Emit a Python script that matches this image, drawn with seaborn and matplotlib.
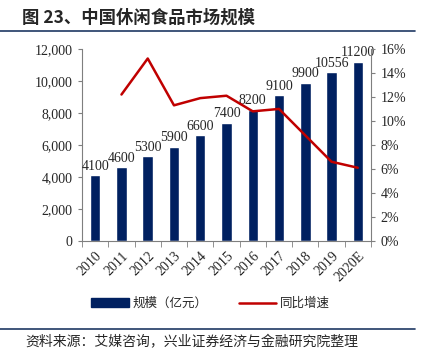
import numpy as np
import pandas as pd
import matplotlib
matplotlib.use("Agg")
import matplotlib.pyplot as plt
import seaborn as sns
from matplotlib.lines import Line2D
from matplotlib.patches import Patch

sns.set_style("ticks")
plt.rcParams["font.family"] = ["Liberation Serif", "Noto Sans CJK SC", "DejaVu Sans"]

years = ["2010", "2011", "2012", "2013", "2014", "2015", "2016", "2017", "2018", "2019", "2020E"]
scale = [4100, 4600, 5300, 5900, 6600, 7400, 8200, 9100, 9900, 10556, 11200]
growth = [np.nan, 12.2, 15.2, 11.3, 11.9, 12.1, 10.8, 11.0, 8.8, 6.6, 6.1]

df = pd.DataFrame({"year": years, "scale": scale, "growth": growth})

navy = "#002060"
red = "#C00000"
grey = "#7F7F7F"

fig = plt.figure(figsize=(4.21, 3.57), dpi=100)
ax = fig.add_axes([0.195, 0.325, 0.686, 0.538])

sns.barplot(ax=ax, data=df, x="year", y="scale", color=navy, width=0.4, saturation=1)
ax.set_ylim(0, 12000)
ax.set_xlim(-0.5, len(years) - 0.5)
ax.set_yticks(range(0, 12001, 2000))
ax.set_yticklabels([f"{v:,}" for v in range(0, 12001, 2000)], fontsize=10)
ax.set_xlabel("")
ax.set_ylabel("")
ax.set_xticks(np.arange(len(years)))
ax.set_xticklabels(years, rotation=45, fontsize=10, ha="right", va="top", rotation_mode="anchor")
ax.tick_params(axis="x", length=0, pad=6)
# tick marks between categories
ax.set_xticks(np.arange(-0.5, len(years), 1), minor=True)
ax.tick_params(axis="x", which="minor", length=4, color=grey, direction="out")
ax.tick_params(axis="y", length=3, color=grey, pad=4)
for v, x in zip(scale, range(len(years))):
    ax.text(x, v + 150, str(v), ha="center", va="bottom", fontsize=10)

ax2 = ax.twinx()
sns.lineplot(ax=ax2, x=np.arange(len(years)), y=growth, color=red, linewidth=1.8)
ax2.set_ylim(0, 16)
ax2.set_yticks(range(0, 17, 2))
ax2.set_yticklabels([f"{v}%" for v in range(0, 17, 2)], fontsize=10)
ax2.tick_params(axis="y", length=3, color=grey, pad=4)

for a in (ax, ax2):
    a.spines["top"].set_visible(False)
    for s in ("left", "right", "bottom"):
        a.spines[s].set_color(grey)
        a.spines[s].set_linewidth(0.8)
ax.spines["right"].set_visible(False)
ax2.spines["left"].set_visible(False)
ax2.spines["bottom"].set_visible(False)

handles = [Patch(color=navy), Line2D([0], [0], color=red, lw=1.8)]
fig.legend(handles, ["规模（亿元）", "同比增速"], loc="center", bbox_to_anchor=(0.5, 0.15),
           ncol=2, frameon=False, handlelength=3, columnspacing=2.5,
           handletextpad=0.3, prop={"family": ["Noto Sans CJK SC"], "size": 9})

fig.text(0.052, 0.95, "图 23、中国休闲食品市场规模", fontsize=12.5, fontweight="bold",
         family=["Noto Sans CJK SC"], va="center", ha="left")
fig.add_artist(Line2D([0.0, 0.985], [0.913, 0.913], color="#1F3864", lw=1.2))
fig.add_artist(Line2D([0.0, 0.985], [0.078, 0.078], color="#1F3864", lw=1.2))
fig.text(0.06, 0.04, "资料来源：艾媒咨询，兴业证券经济与金融研究院整理", fontsize=10,
         family=["Noto Sans CJK SC"], va="center", ha="left")

fig.savefig("out.png", dpi=100)
